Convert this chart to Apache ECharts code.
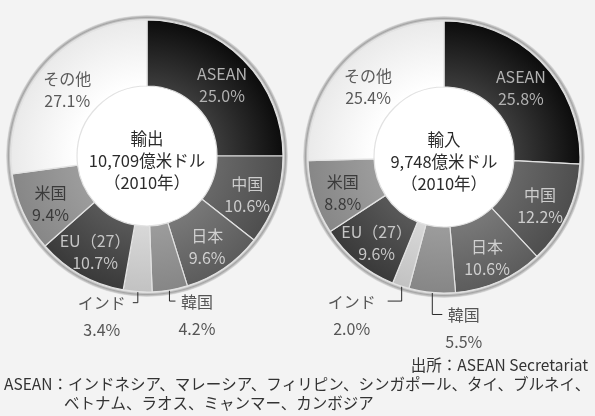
<!DOCTYPE html>
<html>
<head>
<meta charset="utf-8">
<script src="https://cdn.jsdelivr.net/npm/echarts@6/dist/echarts.min.js"></script>
<style>
  html, body { margin: 0; padding: 0; background: #f3f3f3; }
  #chart { width: 595px; height: 416px; }
</style>
</head>
<body>
<div id="chart"></div>
<script>
// ASEAN trade by partner, share of total (%), 2010
const categories = ['ASEAN', '中国', '日本', '韓国', 'インド', 'EU（27）', '米国', 'その他'];
const exportShare = [25.0, 10.6, 9.6, 4.2, 3.4, 10.7, 9.4, 27.1];
const importShare = [25.8, 12.2, 10.6, 5.5, 2.0, 9.6, 8.8, 25.4];
const exportTitle = ['輸出', '10,709億米ドル', '（2010年）'];
const importTitle = ['輸入', '9,748億米ドル', '（2010年）'];
const sourceNote = '出所：ASEAN Secretariat';
const memberNote = [
  'ASEAN：インドネシア、マレーシア、フィリピン、シンガポール、タイ、ブルネイ、',
  'ベトナム、ラオス、ミャンマー、カンボジア'
];

const FONT = '"Noto Sans CJK JP", "Noto Sans", sans-serif';

// per-slice shading: inner tone, outer tone, label ink
const shades = [
  ['#3c3c3c', '#0c0c0c', '#b2b2b2'],
  ['#686868', '#4e4e4e', '#cdcdcd'],
  ['#787878', '#5c5c5c', '#d0d0d0'],
  ['#9c9c9c', '#868686', '#555555'],
  ['#d8d8d8', '#c2c2c2', '#555555'],
  ['#585858', '#3a3a3a', '#c6c6c6'],
  ['#9c9c9c', '#878787', '#3a3a3a'],
  ['#ffffff', '#eaeaea', '#5a5a5a']
];

// small slices labelled outside with a hooked leader; value = hook direction
const hookSide = { '韓国': 1, 'インド': -1 };

const R0 = 70, R1 = 136;
// hook: [drop, hook length, gap to text]
const pies = [
  { center: [147, 156], share: exportShare, title: exportTitle,
    hook: { '韓国': [14, 6, 3], 'インド': [14, 5, 7] } },
  { center: [444, 157], share: importShare, title: importTitle,
    hook: { '韓国': [25, 10, 3], 'インド': [18, 14, 12] } }
];

function radial(c, r, stops) {
  return { type: 'radial', x: c[0], y: c[1], r: r, global: true,
    colorStops: stops.map(s => ({ offset: s[0], color: s[1] })) };
}

function hookLayout(pie) {
  return function (params) {
    const name = categories[params.dataIndex];
    const pts = params.labelLinePoints;
    if (!(name in hookSide) || !pts) return { dy: 4 };
    const [p0, p1] = pts;
    const vx = p1[0] - p0[0], vy = p1[1] - p0[1];
    const len = Math.hypot(vx, vy) || 1;
    const sx = p0[0] - vx / len * 3, sy = p0[1] - vy / len * 3;
    const [drop, hookLen, gap] = pie.hook[name];
    const side = hookSide[name];
    const hy = sy + drop, hx = sx + side * hookLen;
    const d = 1.3;
    return {
      x: hx + side * (gap + params.labelRect.width / 2),
      y: hy - 13,
      align: 'center',
      verticalAlign: 'top',
      labelLinePoints: [
        [sx - d, sy - d], [sx + d, sy - d], [sx + d, sy + d], [sx - d, sy + d], [sx - d, sy],
        [sx, sy], [sx, hy], [hx, hy]
      ]
    };
  };
}

const series = [];
pies.forEach(pie => {
  const c = pie.center;
  // bevelled rim round the ring
  series.push({
    type: 'pie', center: c, radius: [R1, R1 + 5], silent: true, z: 1,
    label: { show: false }, labelLine: { show: false },
    emphasis: { disabled: true },
    data: [{ value: 1, itemStyle: { color: radial(c, R1 + 5, [
      [R1 / (R1 + 5), '#eeeeee'], [(R1 + 2.5) / (R1 + 5), '#a4a4a4'], [1, '#e4e4e4']
    ]) } }]
  });
  // white hole
  series.push({
    type: 'pie', center: c, radius: [0, R0], silent: true, z: 1,
    label: { show: false }, labelLine: { show: false },
    emphasis: { disabled: true },
    data: [{ value: 1, itemStyle: { color: '#ffffff' } }]
  });
  series.push({
    type: 'pie', center: c, radius: [R0, R1], startAngle: 90, clockwise: true,
    avoidLabelOverlap: false, z: 3,
    emphasis: { disabled: true },
    itemStyle: { borderColor: '#e2e2e2', borderWidth: 1.2 },
    label: {
      show: true, fontFamily: FONT, fontSize: 16, lineHeight: 22,
      formatter: p => p.name + '\n' + p.value.toFixed(1) + '%'
    },
    labelLayout: hookLayout(pie),
    data: categories.map((name, i) => {
      const [inner, outer, ink] = shades[i];
      const outside = name in hookSide;
      return {
        name: name,
        value: pie.share[i],
        itemStyle: { color: radial(c, R1, [[R0 / R1, inner], [1, outer]]) },
        label: outside
          ? { position: 'outside', color: '#555555', lineHeight: 27 }
          : { position: 'inside', color: ink },
        labelLine: { show: outside, length: 8, length2: 4,
          lineStyle: { color: '#2a2a2a', width: 1 } }
      };
    })
  });
});

const graphic = pies.map(pie => ({
  type: 'text', x: pie.center[0], y: pie.center[1] + 5, z: 100,
  style: { text: pie.title.join('\n'), align: 'center', verticalAlign: 'middle',
    fontFamily: FONT, fontSize: 16.5, lineHeight: 22, fill: '#2b2b2b' }
}));
graphic.push(
  { type: 'text', x: 588, y: 365, z: 100,
    style: { text: sourceNote, align: 'right', verticalAlign: 'middle',
      fontFamily: FONT, fontSize: 15.5, fill: '#333333' } },
  { type: 'text', x: 4, y: 384, z: 100,
    style: { text: memberNote[0], align: 'left', verticalAlign: 'middle',
      fontFamily: FONT, fontSize: 15.5, fill: '#333333' } },
  { type: 'text', x: 64, y: 403, z: 100,
    style: { text: memberNote[1], align: 'left', verticalAlign: 'middle',
      fontFamily: FONT, fontSize: 15.5, fill: '#333333' } }
);

const chart = echarts.init(document.getElementById('chart'), null, { renderer: 'canvas' });
chart.setOption({
  backgroundColor: '#f3f3f3',
  animation: false,
  series: series,
  graphic: graphic
});
</script>
</body>
</html>
